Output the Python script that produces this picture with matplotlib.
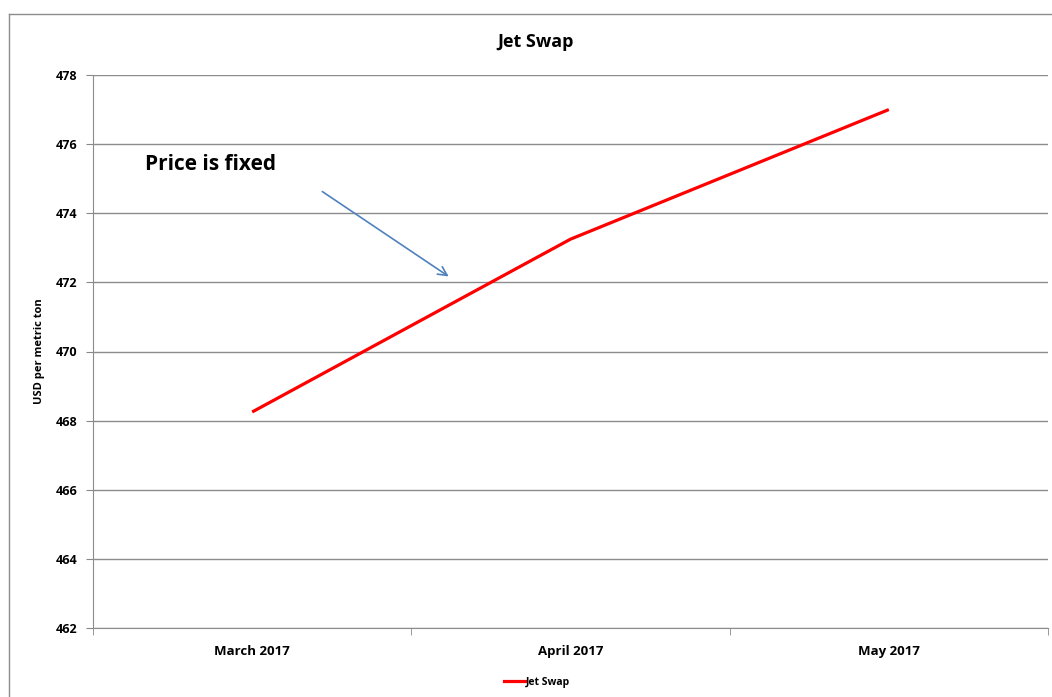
import matplotlib
matplotlib.use("Agg")
import matplotlib.pyplot as plt
from matplotlib.lines import Line2D
import numpy as np

plt.rcParams['font.family'] = ['Open Sans', 'DejaVu Sans']

months = ['March 2017', 'April 2017', 'May 2017']
jet_swap = [468.25, 473.25, 477.0]
y_ticks = np.arange(462, 479, 2)

H = 697
fig = plt.figure(figsize=(10.52, 6.97), dpi=100)
ax = fig.add_axes([93 / 1052, 1 - 628 / H, (1048 - 93) / 1052, (628 - 75) / H])

x = np.arange(len(months))
ax.plot(x, jet_swap, color='#ff0000', lw=2.3, label='Jet Swap', solid_capstyle='butt')

ax.set_xlim(-0.5, len(months) - 0.5)
ax.set_ylim(462, 478)
ax.set_yticks(y_ticks)
ax.set_yticklabels([str(v) for v in y_ticks], fontweight='bold', fontsize=9)
ax.set_xticks(x)
ax.set_xticklabels(months, fontweight='bold', fontsize=9.5)
ax.set_xticks(np.arange(-0.5, len(months)), minor=True)
ax.tick_params(axis='x', which='major', length=0, pad=12)
ax.tick_params(axis='x', which='minor', length=5, color='#888888')
ax.tick_params(axis='y', length=5, color='#888888', pad=6)
ax.grid(axis='y', color='#8c8c8c', lw=1)
ax.set_axisbelow(True)
for s in ['top', 'right']:
    ax.spines[s].set_visible(False)
ax.spines['left'].set_color('#8c8c8c')
ax.spines['bottom'].set_color('#8c8c8c')

ax.set_ylabel('USD per metric ton', fontweight='bold', fontsize=8, labelpad=8)
fig.text(536 / 1052, 1 - 42 / H, 'Jet Swap', ha='center', va='center',
         fontweight='bold', fontsize=13)

ax.annotate('', xy=(451, H - 278), xycoords='figure pixels', xytext=(320, H - 190),
            textcoords='figure pixels',
            arrowprops=dict(arrowstyle='->', color='#4f81bd', lw=1.2, mutation_scale=16))
fig.text(145 / 1052, 1 - 165 / H, 'Price is fixed', ha='left', va='center',
         fontweight='bold', fontsize=15)

fig.legend(handles=[Line2D([], [], color='#ff0000', lw=2.3)], labels=['Jet Swap'],
           loc='center', bbox_to_anchor=(537 / 1052, 1 - 682 / H), frameon=False,
           prop=dict(weight='bold', size=7.5), handlelength=2.0, handletextpad=0.1)

# outer chart frame (clipped at right and bottom)
fig.add_artist(Line2D([8.5 / 1052, 1.0], [1 - 13.5 / H] * 2, color='#8c8c8c', lw=1))
fig.add_artist(Line2D([8.5 / 1052] * 2, [0, 1 - 13.5 / H], color='#8c8c8c', lw=1))

fig.savefig('out.png', dpi=100)
